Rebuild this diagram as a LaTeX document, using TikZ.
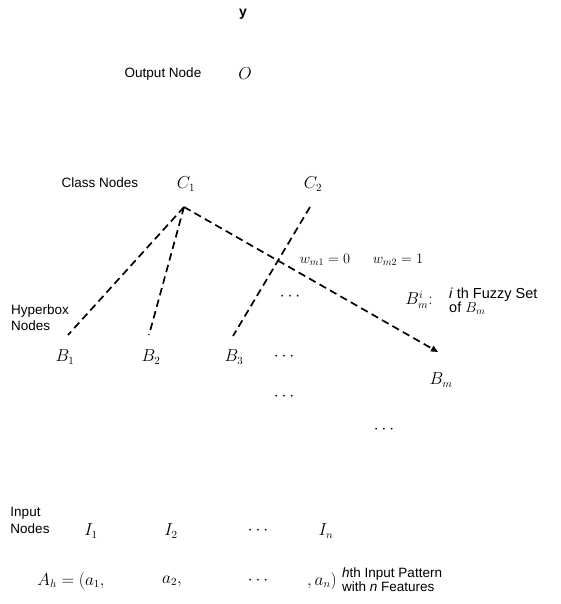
\documentclass[tikz,border=0pt]{standalone}
\usepackage{fontspec}
\setmainfont{Liberation Sans}
\usetikzlibrary{arrows.meta}
\begin{document}
\begin{tikzpicture}[x=1pt,y=-1pt,
  lbl/.style={font=\fontsize{13.5}{15}\selectfont, inner sep=0pt},
  lbl2/.style={font=\fontsize{13.5}{15}\selectfont, inner sep=0pt, align=left},
  mth/.style={font=\fontsize{16}{18}\selectfont, inner sep=0pt},
  dl/.style={line width=1.7pt, dash pattern=on 7.5pt off 4.5pt}]
\useasboundingbox (0,0) rectangle (561,604);
\node[font=\fontsize{14}{16}\selectfont, inner sep=0pt] (y) at (243,14) {\textbf{y}};
\node[lbl] (outl) at (163,74) {Output Node};
\node[mth] (o) at (245,74) {$O$};
\node[lbl] (cl) at (100,183) {Class Nodes};
\node[mth] (c1) at (186,184) {$C_1$};
\node[mth] (c2) at (313,184) {$C_2$};
\node[lbl2] (hl) at (40,318) {Hyperbox\\[1pt]Nodes};
\node[mth] (b1) at (65,357) {$B_1$};
\node[mth] (b2) at (151,357) {$B_2$};
\node[mth] (b3) at (234,357) {$B_3$};
\node[mth] (bd) at (284,357) {$\cdots$};
\node[mth] (bm) at (441,380) {$B_m$};
\node[mth] (d1) at (290,297) {$\cdots$};
\node[mth] (d2) at (284,397) {$\cdots$};
\node[mth] (d3) at (384,430) {$\cdots$};
\node[mth, font=\fontsize{14}{16}\selectfont] (w1) at (325,260) {$w_{m1}=0$};
\node[mth, font=\fontsize{14}{16}\selectfont] (w2) at (398,260) {$w_{m2}=1$};
\node[mth] (bmi) at (419,300) {$B_m^i{:}$};
\node[lbl2, anchor=west, font=\fontsize{14.5}{15}\selectfont] (fz) at (449,301) {\textit{i} th Fuzzy Set\\[-1pt]of $B_m$};
\node[lbl2] (il) at (30,520) {Input\\[2pt]Nodes};
\node[mth] (i1) at (91,531) {$I_1$};
\node[mth] (i2) at (171,531) {$I_2$};
\node[mth] (id) at (258,531) {$\cdots$};
\node[mth] (in) at (326,531) {$I_n$};
\node[mth] (ah) at (71,581) {$A_h=(a_1,$};
\node[mth] (a2) at (172,581) {$a_2,$};
\node[mth] (ad) at (258,581) {$\cdots$};
\node[mth] (an) at (322,581) {$,a_n)$};
\node[lbl2, anchor=west] (ip) at (342,580) {\textit{h}th Input Pattern\\[-1pt]with \textit{n} Features};
\coordinate (c1p) at (184,207);
\coordinate (c2p) at (310,207);
\coordinate (b1t) at (68,335);
\coordinate (b2t) at (149,335);
\coordinate (b3t) at (233,336);
\coordinate (bmt) at (438,352);
\draw[dl] (c1p) -- (b1t);
\draw[dl] (c1p) -- (b2t);
\draw[dl] (c2p) -- (b3t);
\draw[dl, -{Triangle[length=7pt,width=6pt]}] (c1p) -- (bmt);
\end{tikzpicture}
\end{document}
